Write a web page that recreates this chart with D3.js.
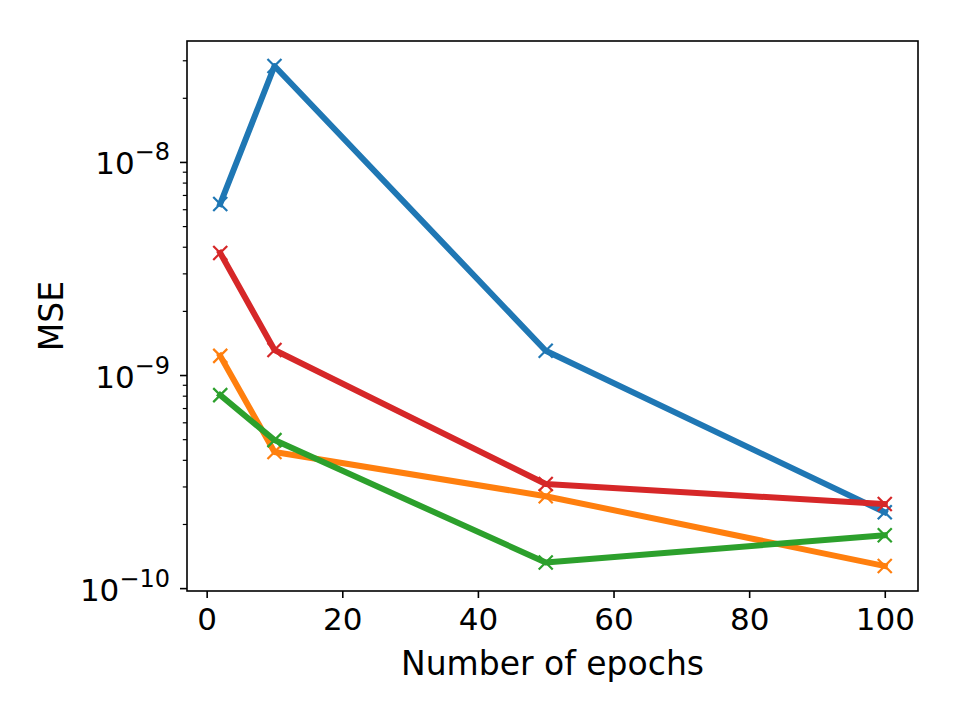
<!DOCTYPE html>
<html>
<head>
<meta charset="utf-8">
<script src="https://cdn.jsdelivr.net/npm/d3@7"></script>
<style>
  body { margin: 0; background: #fff; }
  text { font-family: "DejaVu Sans", sans-serif; fill: #000; }
</style>
</head>
<body>
<div id="chart"></div>
<script>
//  data
const epochs = [2, 10, 50, 100];
const mse_blue = [6.35e-9, 2.82e-8, 1.30e-9, 2.27e-10];
const mse_orange = [1.23e-9, 4.35e-10, 2.70e-10, 1.27e-10];
const mse_green = [8.05e-10, 4.95e-10, 1.32e-10, 1.77e-10];
const mse_red = [3.74e-9, 1.31e-9, 3.08e-10, 2.48e-10];
const series_colors = ["#1f77b4", "#ff7f0e", "#2ca02c", "#d62728"];
const x_ticks = [0, 20, 40, 60, 80, 100];
const y_exps = [-10, -9, -8];

//  draw
function draw_chart() {
  const w = 960, h = 720;
  const margin = {top: 41, right: 42, bottom: 129, left: 187};

  const svg = d3.select("#chart").append("svg").attr("width", w).attr("height", h);

  const all = [mse_blue, mse_orange, mse_green, mse_red];
  const series = all.map((vals, i) => ({color: series_colors[i], pts: epochs.map((e, j) => ({x: e, y: vals[j]}))}));

  // matplotlib-like 5% padding
  const xr = d3.extent(epochs);
  const xpad = (xr[1] - xr[0]) * 0.05;
  const x = d3.scaleLinear().domain([xr[0] - xpad, xr[1] + xpad]).range([margin.left, w - margin.right]);

  const ly = d3.extent(all.flat(), v => Math.log10(v));
  const ypad = (ly[1] - ly[0]) * 0.05;
  const y = d3.scaleLog().domain([Math.pow(10, ly[0] - ypad), Math.pow(10, ly[1] + ypad)]).range([h - margin.bottom, margin.top]);

  // minor ticks
  const minor = [];
  y_exps.concat([-11, -7]).forEach(p => {
    for (let k = 2; k <= 9; k++) {
      const v = k * Math.pow(10, p);
      if (v >= y.domain()[0] && v <= y.domain()[1]) minor.push(v);
    }
  });

  svg.append("g")
    .attr("transform", `translate(${margin.left},0)`)
    .call(d3.axisLeft(y).tickValues(minor).tickFormat("").tickSizeInner(4.2).tickSizeOuter(0))
    .call(g => g.select(".domain").remove())
    .call(g => g.selectAll("line").attr("stroke-width", 1.2));

  const ymaj = svg.append("g")
    .attr("transform", `translate(${margin.left},0)`)
    .call(d3.axisLeft(y).tickValues(y_exps.map(p => Math.pow(10, p))).tickFormat("").tickSizeInner(7).tickSizeOuter(0))
    .call(g => g.select(".domain").remove())
    .call(g => g.selectAll("line").attr("stroke-width", 1.6));

  ymaj.selectAll(".tick").append("text")
    .attr("x", -17)
    .attr("y", 12)
    .attr("text-anchor", "end")
    .attr("font-size", 31)
    .each(function(d) {
      const t = d3.select(this);
      t.append("tspan").text("10");
      t.append("tspan").attr("dy", -14).attr("font-size", 24).text("\u2212" + Math.round(-Math.log10(d)));
    });

  svg.append("g")
    .attr("transform", `translate(0,${h - margin.bottom})`)
    .call(d3.axisBottom(x).tickValues(x_ticks).tickSizeInner(7).tickSizeOuter(0).tickPadding(10))
    .call(g => g.select(".domain").remove())
    .call(g => g.selectAll("line").attr("stroke-width", 1.6))
    .call(g => g.selectAll("text").attr("font-size", 31).attr("dy", "0.71em"));

  // lines
  const line = d3.line().x(d => x(d.x)).y(d => y(d.y));
  series.forEach(s => {
    svg.append("path")
      .datum(s.pts)
      .attr("fill", "none")
      .attr("stroke", s.color)
      .attr("stroke-width", 6)
      .attr("stroke-linejoin", "round")
      .attr("stroke-linecap", "square")
      .attr("d", line);

    svg.append("g").selectAll("path").data(s.pts).enter()
      .append("path")
      .attr("transform", d => `translate(${x(d.x)},${y(d.y)})`)
      .attr("d", "M-7,-7L7,7M-7,7L7,-7")
      .attr("stroke", s.color)
      .attr("stroke-width", 2.2);
  });

  // frame
  svg.append("rect")
    .attr("x", margin.left)
    .attr("y", margin.top)
    .attr("width", w - margin.left - margin.right)
    .attr("height", h - margin.top - margin.bottom)
    .attr("fill", "none")
    .attr("stroke", "#000")
    .attr("stroke-width", 1.6);

  svg.append("text")
    .attr("x", (margin.left + w - margin.right) / 2)
    .attr("y", 675)
    .attr("text-anchor", "middle")
    .attr("font-size", 33)
    .text("Number of epochs");

  svg.append("text")
    .attr("transform", `translate(63,${(margin.top + h - margin.bottom) / 2}) rotate(-90)`)
    .attr("text-anchor", "middle")
    .attr("font-size", 33)
    .text("MSE");
}

draw_chart();
</script>
</body>
</html>
